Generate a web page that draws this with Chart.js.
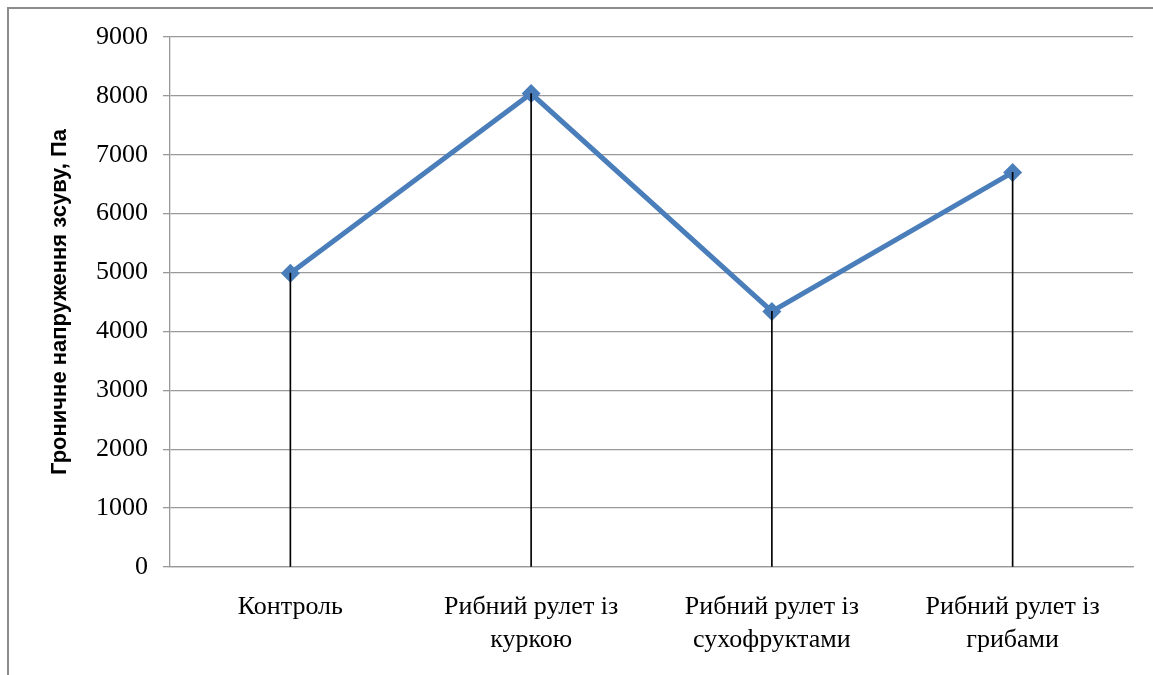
<!DOCTYPE html>
<html>
<head>
<meta charset="utf-8">
<script src="https://cdn.jsdelivr.net/npm/chart.js@4.4.1/dist/chart.umd.min.js"></script>
<style>
  html, body { margin: 0; padding: 0; background: #fff; }
  #wrap { position: relative; width: 1153px; height: 675px; overflow: hidden; }
  #frame { position: absolute; left: 7px; top: 7px; right: -10px; bottom: -10px;
           border-left: 2px solid #8c8c8c; border-top: 2px solid #8c8c8c; }
  #box { position: absolute; left: 0; top: 0; width: 1153px; height: 675px; }
</style>
</head>
<body>
<div id="wrap">
  <div id="frame"></div>
  <div id="box"><canvas id="c"></canvas></div>
</div>
<script>
const categories = [
  'Контроль',
  ['Рибний рулет із', 'куркою'],
  ['Рибний рулет із', 'сухофруктами'],
  ['Рибний рулет із', 'грибами']
];
const shearStress = [4990, 8040, 4340, 6700];
const yTitle = 'Гроничне напруження зсуву, Па';
const yMin = 0, yMax = 9000, yStep = 1000;

const serif = '"Liberation Serif", "Times New Roman", serif';

new Chart(document.getElementById('c'), {
  data: {
    labels: categories,
    datasets: [
      {
        type: 'line',
        data: shearStress,
        borderColor: '#4a7ebb',
        backgroundColor: '#4a7ebb',
        borderWidth: 5,
        pointStyle: 'rectRot',
        pointRadius: 9.5,
        pointBorderWidth: 0,
        pointBackgroundColor: '#4a7ebb',
        tension: 0,
        order: 2
      },
      {
        type: 'bar',
        data: shearStress,
        backgroundColor: '#000',
        barThickness: 1,
        order: 1
      }
    ]
  },
  options: {
    responsive: true,
    maintainAspectRatio: false,
    animation: false,
    layout: { padding: { left: 0, top: 37, right: 20, bottom: 0 } },
    plugins: { legend: { display: false }, tooltip: { enabled: false } },
    scales: {
      x: {
        offset: true,
        grid: { display: false, drawTicks: false },
        border: { display: true, color: '#999', width: 1.3 },
        ticks: { color: '#000', font: { family: serif, size: 26, lineHeight: 1.27 }, padding: 24, maxRotation: 0, autoSkip: false },
        afterFit: s => { s.height = 108; }
      },
      y: {
        min: yMin, max: yMax,
        grid: { color: '#999', lineWidth: 1.3, tickLength: 7, drawTicks: true },
        border: { display: true, color: '#999', width: 1.3 },
        ticks: { stepSize: yStep, color: '#000', font: { family: serif, size: 26 }, padding: 15,
                 callback: v => String(v) },
        title: { display: true, text: yTitle, color: '#000',
                 font: { family: '"Liberation Sans", Arial, sans-serif', size: 22, weight: 'bold', lineHeight: 1.2 },
                 padding: { top: 47, bottom: 0 } },
        afterFit: s => { s.width = 170; }
      }
    }
  }
});
</script>
</body>
</html>
